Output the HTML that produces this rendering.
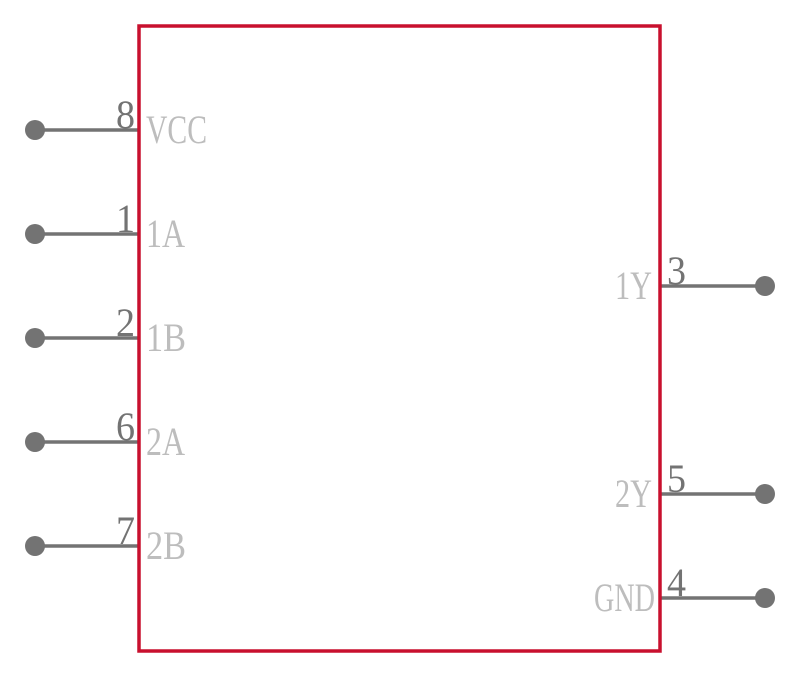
<!DOCTYPE html>
<html><head><style>html,body{margin:0;padding:0;background:#fff}</style></head><body>
<svg width="800" height="677" xmlns="http://www.w3.org/2000/svg" font-family="Liberation Serif, serif">
<g stroke="#737373" stroke-width="3.5">
<line x1="35" y1="130" x2="139" y2="130"/>
<line x1="35" y1="234" x2="139" y2="234"/>
<line x1="35" y1="338" x2="139" y2="338"/>
<line x1="35" y1="442" x2="139" y2="442"/>
<line x1="35" y1="546" x2="139" y2="546"/>
<line x1="660" y1="286" x2="765" y2="286"/>
<line x1="660" y1="494" x2="765" y2="494"/>
<line x1="660" y1="598" x2="765" y2="598"/>
</g>
<g fill="#737373">
<circle cx="35" cy="130" r="10"/><circle cx="35" cy="234" r="10"/><circle cx="35" cy="338" r="10"/>
<circle cx="35" cy="442" r="10"/><circle cx="35" cy="546" r="10"/>
<circle cx="765" cy="286" r="10"/><circle cx="765" cy="494" r="10"/><circle cx="765" cy="598" r="10"/>
</g>
<rect x="139" y="26" width="521" height="625" fill="none" stroke="#c8102e" stroke-width="3.5"/>
<g fill="#737373" font-size="40">
<text x="116" y="128" textLength="19" lengthAdjust="spacingAndGlyphs">8</text>
<text x="116" y="232" textLength="19" lengthAdjust="spacingAndGlyphs">1</text>
<text x="116" y="336" textLength="19" lengthAdjust="spacingAndGlyphs">2</text>
<text x="116" y="440" textLength="19" lengthAdjust="spacingAndGlyphs">6</text>
<text x="116" y="544" textLength="19" lengthAdjust="spacingAndGlyphs">7</text>
<text x="667" y="284" textLength="19" lengthAdjust="spacingAndGlyphs">3</text>
<text x="667" y="492" textLength="19" lengthAdjust="spacingAndGlyphs">5</text>
<text x="667" y="596" textLength="19" lengthAdjust="spacingAndGlyphs">4</text>
</g>
<g fill="#bdbdbd" font-size="40">
<text x="146" y="143" textLength="61" lengthAdjust="spacingAndGlyphs">VCC</text>
<text x="146" y="247" textLength="39" lengthAdjust="spacingAndGlyphs">1A</text>
<text x="146" y="351" textLength="40" lengthAdjust="spacingAndGlyphs">1B</text>
<text x="146" y="455" textLength="39" lengthAdjust="spacingAndGlyphs">2A</text>
<text x="146" y="559" textLength="40" lengthAdjust="spacingAndGlyphs">2B</text>
<text x="615" y="299" textLength="37" lengthAdjust="spacingAndGlyphs">1Y</text>
<text x="615" y="507" textLength="37" lengthAdjust="spacingAndGlyphs">2Y</text>
<text x="594" y="611" textLength="61" lengthAdjust="spacingAndGlyphs">GND</text>
</g>
</svg>
</body></html>
